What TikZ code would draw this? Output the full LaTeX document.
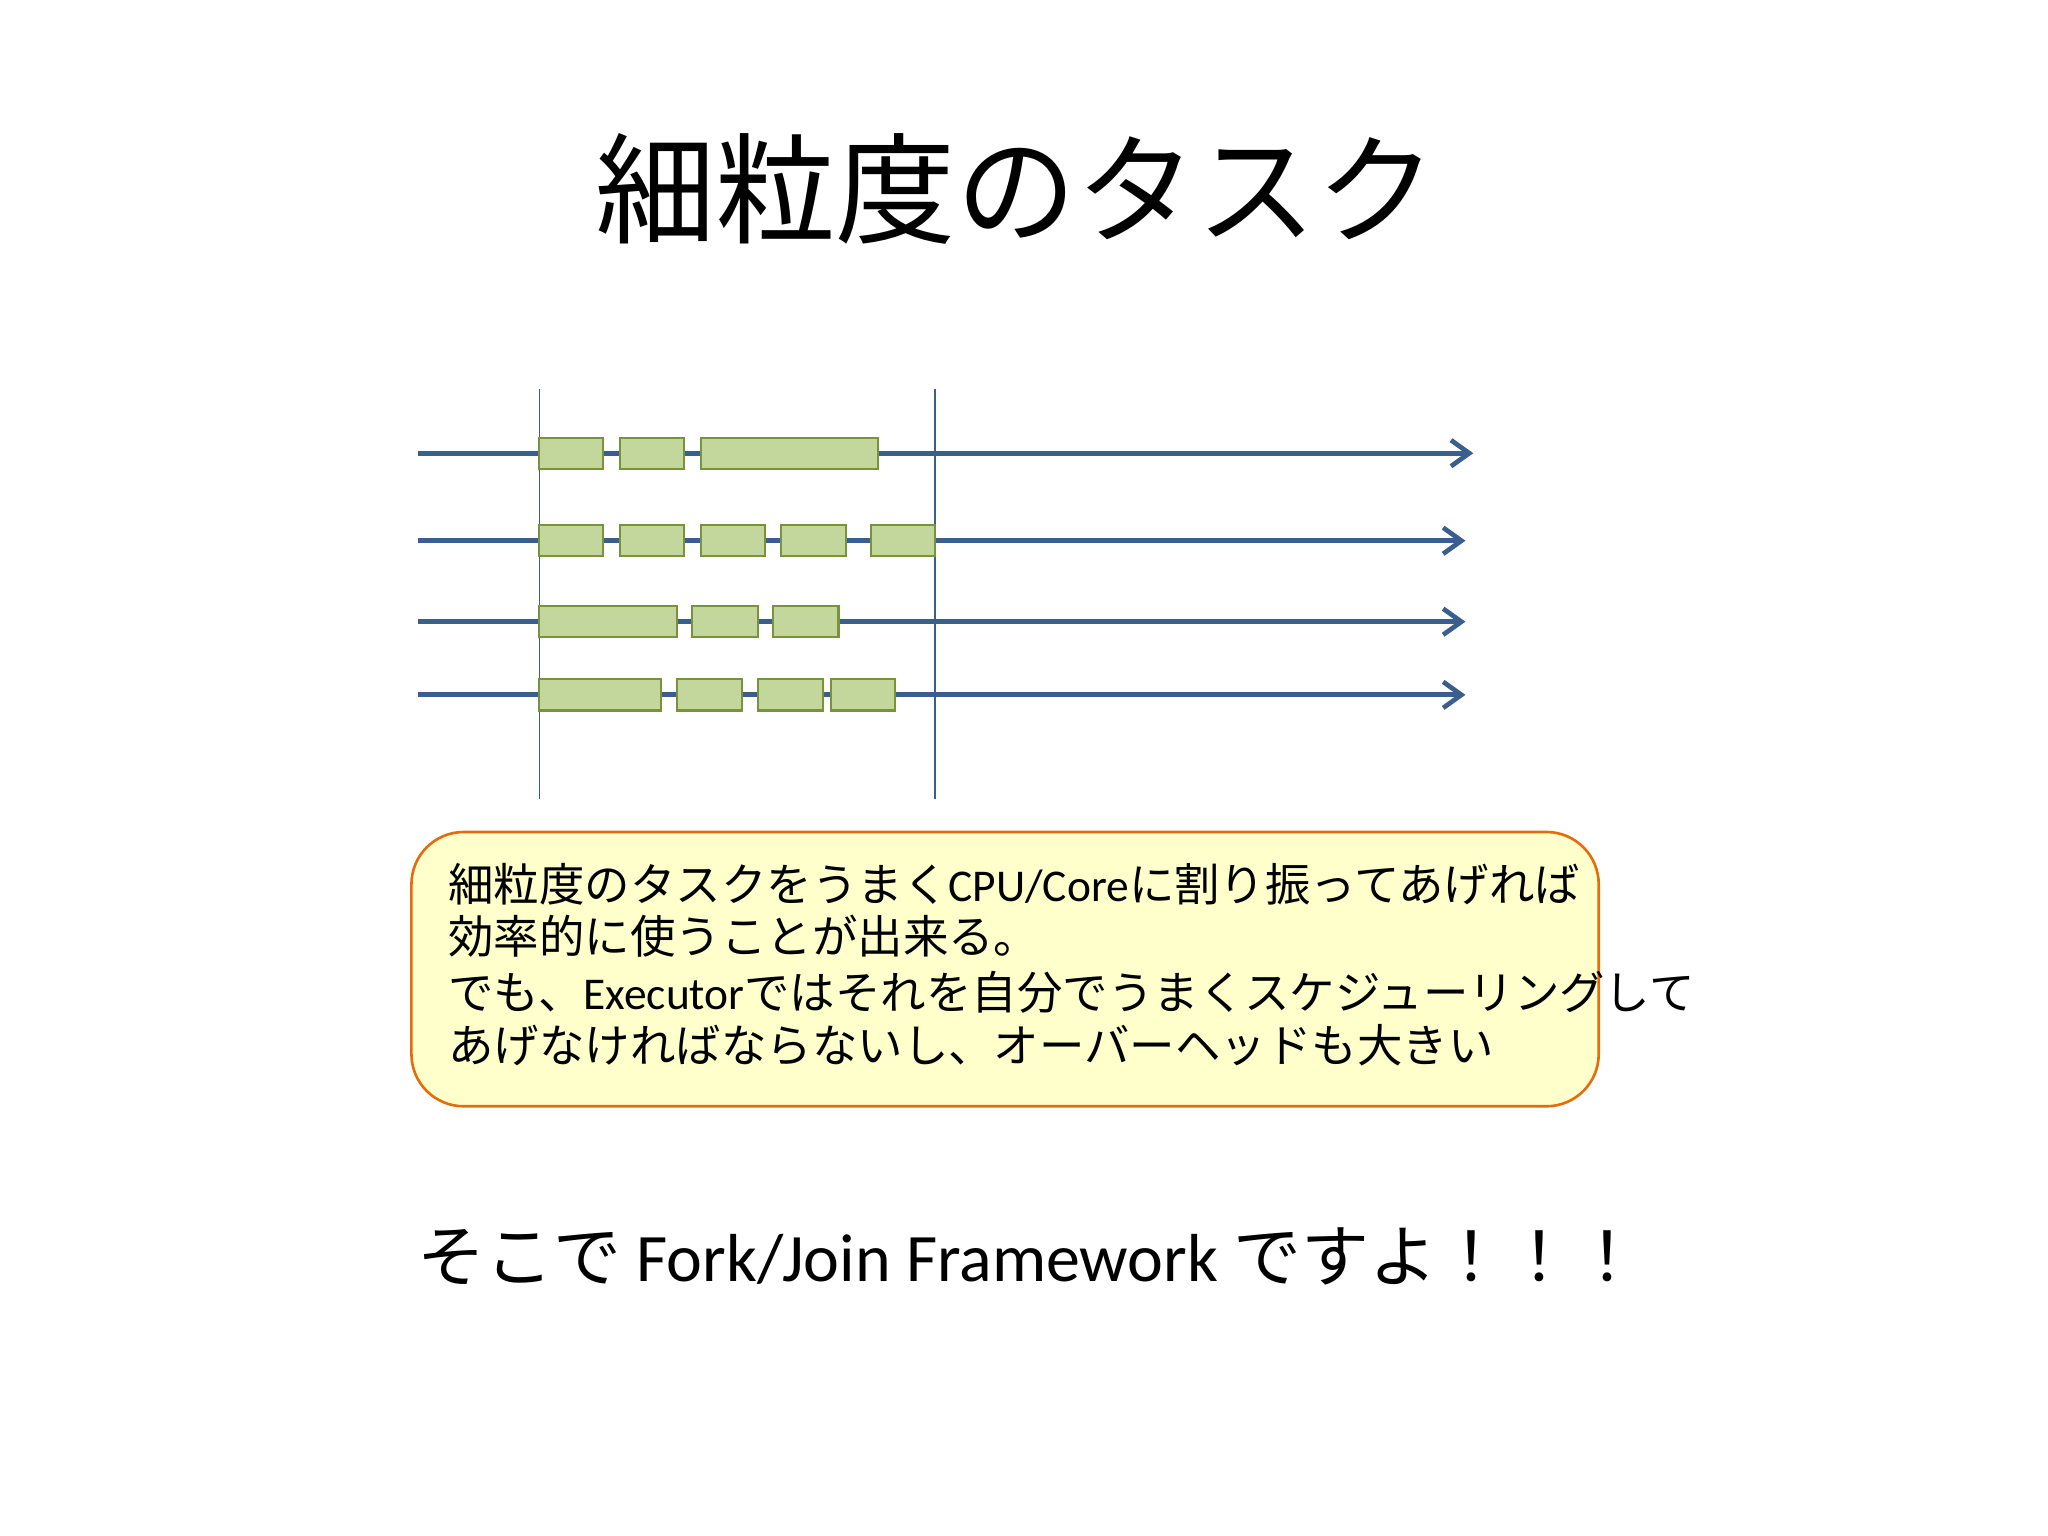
\documentclass[tikz,border=0pt]{standalone}
\usepackage{fontspec}
\newfontfamily\jp{Noto Sans CJK JP}
\newfontfamily\lat{Carlito}
\usetikzlibrary{arrows.meta}
\definecolor{lineblue}{HTML}{3A5F8F}
\definecolor{taskfill}{HTML}{C3D69B}
\definecolor{taskdraw}{HTML}{77933C}
\definecolor{notefill}{HTML}{FFFFCC}
\definecolor{notedraw}{HTML}{E46C0A}
\tikzset{
 core/.style={draw=lineblue,line width=2pt,-{Straight Barb[length=7pt,width=10pt,line width=1.8pt]}},
 bound/.style={draw=lineblue,line width=0.7pt},
 task/.style={draw=taskdraw,fill=taskfill,line width=0.8pt},
 txt/.style={anchor=west,inner sep=0pt,font=\fontsize{17.4pt}{19pt}\selectfont\jp}
}
\begin{document}
\begin{tikzpicture}[x=0.5pt,y=-0.5pt]
\useasboundingbox (0,0) rectangle (1568,1176);
\node (title) at (778,145) {\fontsize{46pt}{50pt}\selectfont\jp 細粒度のタスク};
% cores
\foreach \y/\e [count=\i] in {347/1128,414/1122,476/1122,532/1122}{
 \coordinate (s\i) at (320,\y); \coordinate (e\i) at (\e,\y);
 \draw[core] (s\i) -- (e\i);
}
\coordinate (v1a) at (413,298); \coordinate (v1b) at (413,612);
\coordinate (v2a) at (716,298); \coordinate (v2b) at (716,612);
\draw[bound] (v1a) -- (v1b); \draw[bound] (v2a) -- (v2b);
% tasks
\foreach \a/\b in {413/462,475/524,537/672} \draw[task] (\a,335) rectangle (\b,359);
\foreach \a/\b in {413/462,475/524,537/586,598/648,667/716} \draw[task] (\a,402) rectangle (\b,426);
\foreach \a/\b in {413/518,530/580,592/642} \draw[task] (\a,464) rectangle (\b,488);
\foreach \a/\b in {413/506,518/568,580/630,636/685} \draw[task] (\a,520) rectangle (\b,544);
% note
\draw[draw=notedraw,fill=notefill,line width=1pt,rounded corners=20pt] (315,637) rectangle (1224,847);
\node[txt] (l1) at (343,677) {細粒度のタスクをうまく{\lat CPU/Core}に割り振ってあげれば};
\node[txt] (l2) at (343,717) {効率的に使うことが出来る。};
\node[txt] (l3) at (343,760) {でも、{\lat Executor}ではそれを自分でうまくスケジューリングして};
\node[txt] (l4) at (343,800) {あげなければならないし、オーバーヘッドも大きい};
\node (bottom) at (788,962) {\fontsize{26pt}{30pt}\selectfont\jp そこで{\lat\ Fork/Join Framework }ですよ！！！};
\end{tikzpicture}
\end{document}
